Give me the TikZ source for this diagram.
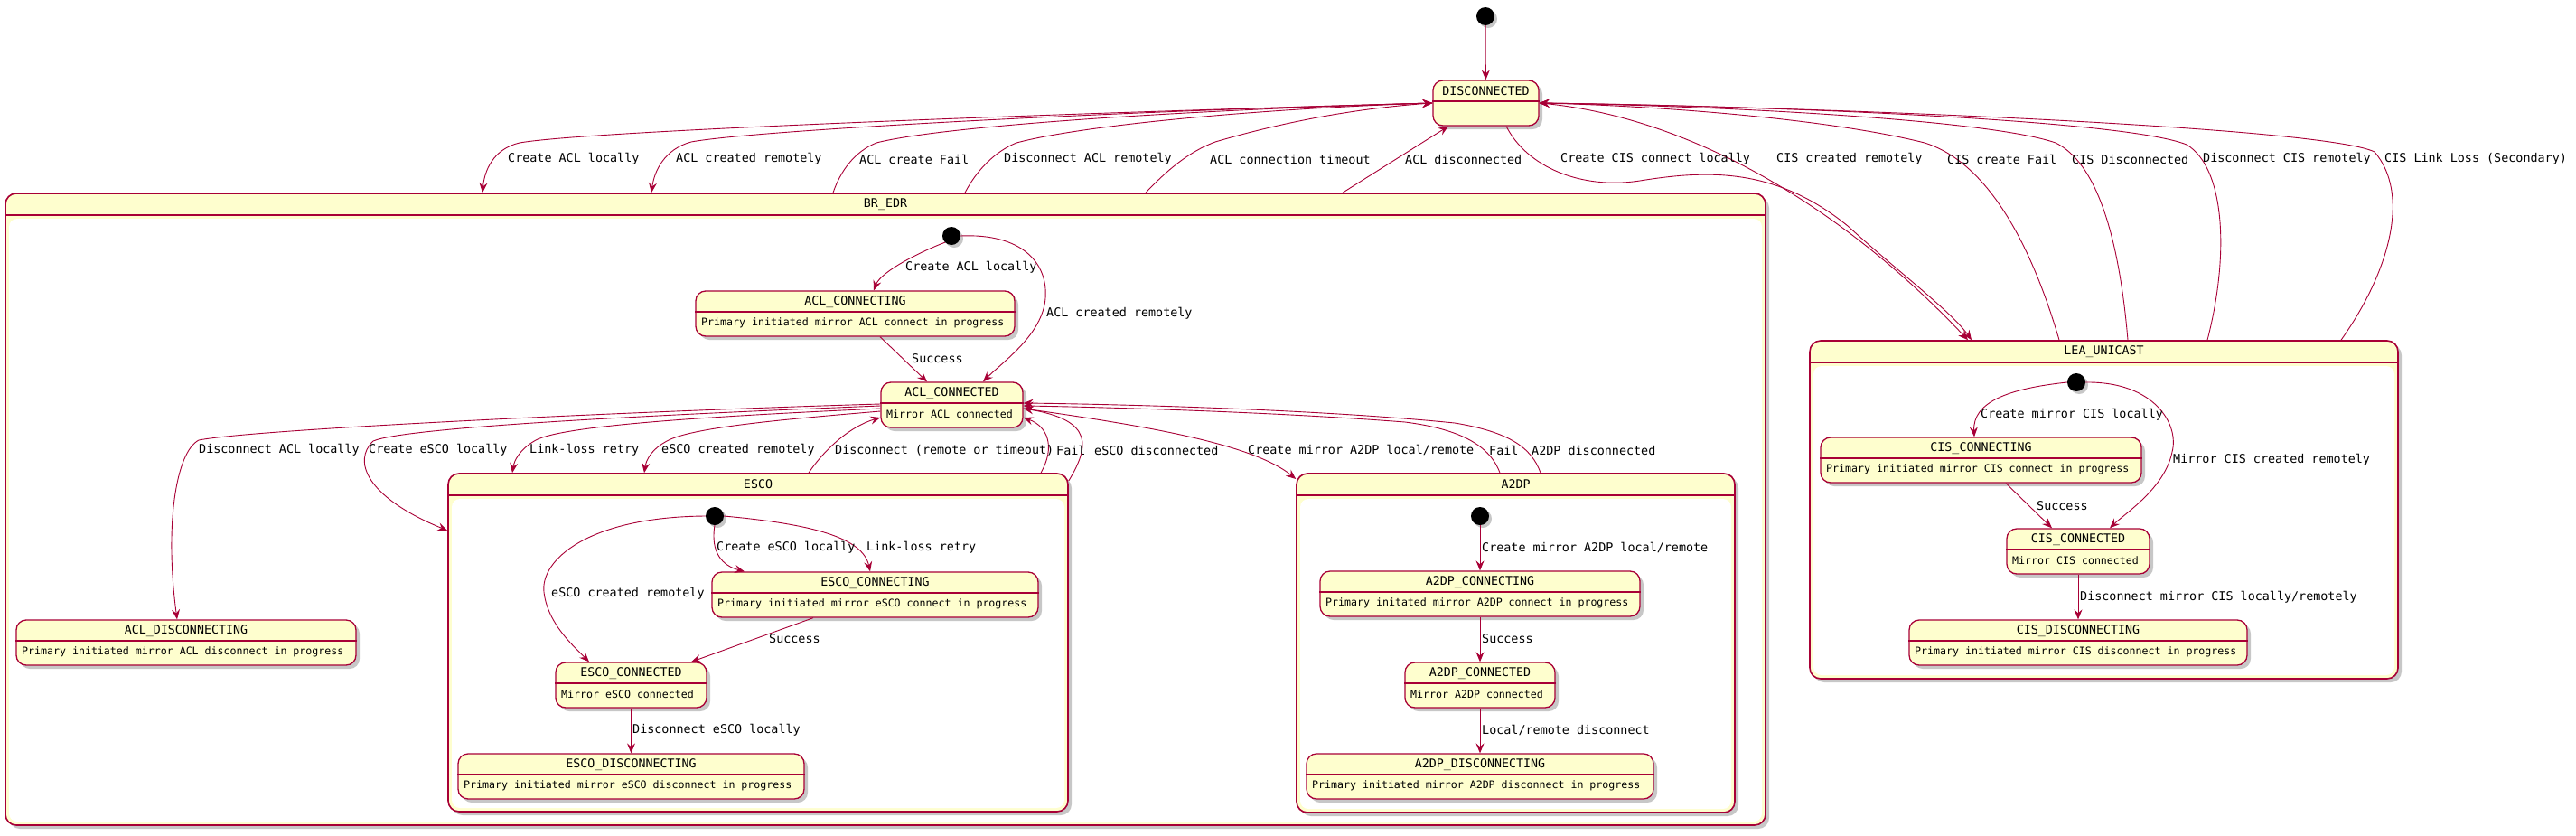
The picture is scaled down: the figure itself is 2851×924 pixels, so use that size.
\documentclass[tikz,border=0pt]{standalone}
\usepackage{fontspec}
\usetikzlibrary{arrows.meta,shadows}
\newfontfamily\umlmono{DejaVu Sans Mono}
\definecolor{umlred}{HTML}{A80036}
\definecolor{umlyellow}{HTML}{FEFECE}

\tikzset{
  stbox/.style={draw=umlred, fill=umlyellow, line width=1.3pt, rounded corners=11pt,
    minimum height=50pt, inner sep=0pt,
    drop shadow={shadow xshift=4pt, shadow yshift=-4pt, opacity=0.22, fill=black}},
  cbox/.style={draw=umlred, fill=umlyellow, line width=1.6pt, rounded corners=12pt, inner sep=0pt,
    drop shadow={shadow xshift=4pt, shadow yshift=-4pt, opacity=0.22, fill=black}},
  sepline/.style={draw=umlred, line width=1.3pt},
  initdot/.style={circle, fill=black, minimum size=20pt, inner sep=0pt,
    drop shadow={shadow xshift=3pt, shadow yshift=-3pt, opacity=0.22, fill=black}},
  ttl/.style={font=\umlmono\fontsize{13.3}{15}\selectfont, inner sep=0pt},
  dsc/.style={font=\umlmono\fontsize{11.6}{13}\selectfont, inner sep=0pt, anchor=west},
  lbl/.style={font=\umlmono\fontsize{13.4}{15}\selectfont, inner sep=0pt, anchor=west},
  tr/.style={draw=umlred, line width=0.9pt, -{Stealth[length=11pt, width=9pt, inset=4pt]}},
}

\begin{document}
\begin{tikzpicture}[x=1pt, y=-1pt]
  \useasboundingbox (0,0) rectangle (2851,924);

  % composite states
  \node[cbox, minimum width=1948pt, minimum height=699pt] (brEdr) at (980,563.5) {};
  \fill[white, rounded corners=9pt] (10,242) rectangle (1950,909);
  \draw[sepline] (brEdr.west |- 0,238) -- (brEdr.east |- 0,238);
  \node[ttl] (brEdrTitle) at (980,226) {BR\_EDR};

  \node[cbox, minimum width=686pt, minimum height=374pt] (esco) at (839,711) {};
  \fill[white, rounded corners=9pt] (500,552) rectangle (1178,894);
  \draw[sepline] (esco.west |- 0,548) -- (esco.east |- 0,548);
  \node[ttl] (escoTitle) at (839,536) {ESCO};

  \node[cbox, minimum width=485pt, minimum height=375pt] (a2dp) at (1677.5,711.5) {};
  \fill[white, rounded corners=9pt] (1439,552) rectangle (1916,895);
  \draw[sepline] (a2dp.west |- 0,548) -- (a2dp.east |- 0,548);
  \node[ttl] (a2dpTitle) at (1677.5,536) {A2DP};

  \node[cbox, minimum width=651pt, minimum height=374pt] (leaUnicast) at (2328.5,564) {};
  \fill[white, rounded corners=9pt] (2007,405) rectangle (2650,747);
  \draw[sepline] (leaUnicast.west |- 0,401) -- (leaUnicast.east |- 0,401);
  \node[ttl] (leaTitle) at (2328.5,389) {LEA\_UNICAST};

  % initial pseudo states
  \node[initdot] (init0) at (1644,18) {};
  \node[initdot] (initBr) at (1053,261) {};
  \node[initdot] (initEsco) at (791,571) {};
  \node[initdot] (initA2dp) at (1638,571) {};
  \node[initdot] (initLea) at (2298,423) {};

  % simple states
  \node[stbox, minimum width=117pt] (disc) at (1644.5,114) {};
  \draw[sepline] (disc.west |- 0,112) -- (disc.east |- 0,112);
  \node[ttl] (discTitle) at (1644.5,101) {DISCONNECTED};

  \foreach \nm/\cx/\cy/\w/\tt/\ds in {
    aclConnecting/946.5/347/353/ACL\_CONNECTING/Primary initiated mirror ACL connect in progress,
    aclConnected/1053.5/448/157/ACL\_CONNECTED/Mirror ACL connected,
    aclDisconnecting/206/711/376/ACL\_DISCONNECTING/Primary initiated mirror ACL disconnect in progress,
    escoConnecting/968.5/658/361/ESCO\_CONNECTING/Primary initiated mirror eSCO connect in progress,
    escoConnected/698.5/758/167/ESCO\_CONNECTED/Mirror eSCO connected,
    escoDisconnecting/698.5/859/383/ESCO\_DISCONNECTING/Primary initiated mirror eSCO disconnect in progress,
    a2dpConnecting/1638/657/354/A2DP\_CONNECTING/Primary initated mirror A2DP connect in progress,
    a2dpConnected/1638/758/166/A2DP\_CONNECTED/Mirror A2DP connected,
    a2dpDisconnecting/1638/859/384/A2DP\_DISCONNECTING/Primary initiated mirror A2DP disconnect in progress,
    cisConnecting/2192.5/509/355/CIS\_CONNECTING/Primary initiated mirror CIS connect in progress,
    cisConnected/2300/610/158/CIS\_CONNECTED/Mirror CIS connected,
    cisDisconnecting/2300/711/374/CIS\_DISCONNECTING/Primary initiated mirror CIS disconnect in progress} {
    \node[stbox, minimum width=\w pt] (\nm) at (\cx,\cy) {};
    \draw[sepline] (\nm.west |- 0,{\cy-2}) -- (\nm.east |- 0,{\cy-2});
    \node[ttl] (\nm Title) at (\cx,{\cy-13}) {\tt};
    \node[dsc] (\nm Text) at ({\cx-\w/2+6},{\cy+10}) {\ds};
  }

  % DISCONNECTED <-> BR_EDR
  \draw[tr] (init0) -- (disc);
  \draw[tr] (disc.west) .. controls (1150,126) and (650,145) .. (575,158)
    .. controls (545,165) and (536,190) .. (534,0 |- brEdr.north);
  \draw[tr] (disc.west) .. controls (1200,124) and (830,145) .. (765,157)
    .. controls (735,165) and (724,190) .. (721,0 |- brEdr.north);
  \draw[tr] (922,0 |- brEdr.north) .. controls (930,190) and (945,168) .. (970,158)
    .. controls (1040,140) and (1300,122) .. (disc.west);
  \draw[tr] (1068,0 |- brEdr.north) .. controls (1080,190) and (1100,168) .. (1125,158)
    .. controls (1200,138) and (1400,120) .. (disc.west);
  \draw[tr] (1268,0 |- brEdr.north) .. controls (1290,190) and (1315,168) .. (1345,157)
    .. controls (1420,135) and (1500,120) .. (disc.west);
  \draw[tr] (1486,0 |- brEdr.north) -- (1603,0 |- disc.south);

  % DISCONNECTED <-> LEA_UNICAST
  \draw[tr] (1667,0 |- disc.south) .. controls (1690,185) and (1750,210) .. (1815,200)
    .. controls (1890,188) and (1965,185) .. (2045,250)
    .. controls (2100,300) and (2160,345) .. (2182,0 |- leaUnicast.north);
  \draw[tr] (disc.east) .. controls (1870,128) and (2040,230) .. (2178,0 |- leaUnicast.north);
  \draw[tr] (2279,0 |- leaUnicast.north) .. controls (2245,260) and (2195,178) .. (2130,158)
    .. controls (2010,128) and (1800,116) .. (disc.east);
  \draw[tr] (2355,0 |- leaUnicast.north) .. controls (2345,260) and (2320,180) .. (2275,158)
    .. controls (2200,132) and (1900,117) .. (disc.east);
  \draw[tr] (2443,0 |- leaUnicast.north) .. controls (2468,280) and (2462,185) .. (2420,160)
    .. controls (2350,132) and (1950,117) .. (disc.east);
  \draw[tr] (2591,0 |- leaUnicast.north) .. controls (2645,300) and (2668,215) .. (2628,168)
    .. controls (2570,140) and (2000,118) .. (disc.east);

  \node[lbl] (l01) at (562,176) {Create ACL locally};
  \node[lbl] (l02) at (748,176) {ACL created remotely};
  \node[lbl] (l03) at (951,176) {ACL create Fail};
  \node[lbl] (l04) at (1111,176) {Disconnect ACL remotely};
  \node[lbl] (l05) at (1339,176) {ACL connection timeout};
  \node[lbl] (l06) at (1555,176) {ACL disconnected};
  \node[lbl] (l07) at (1727,176) {Create CIS connect locally};
  \node[lbl] (l08) at (1966,176) {CIS created remotely};
  \node[lbl] (l09) at (2155,176) {CIS create Fail};
  \node[lbl] (l10) at (2293,176) {CIS Disconnected};
  \node[lbl] (l11) at (2438,176) {Disconnect CIS remotely};
  \node[lbl] (l12) at (2639,176) {CIS Link Loss (Secondary)};

  % inside BR_EDR
  \draw[tr] (initBr.south west) .. controls (1020,278) and (975,300) .. (967,0 |- aclConnecting.north);
  \draw[tr] (initBr.east) .. controls (1130,258) and (1160,290) .. (1157,330)
    .. controls (1154,370) and (1110,400) .. (1088,0 |- aclConnected.north);
  \draw[tr] (974,0 |- aclConnecting.south) -- (1026,0 |- aclConnected.north);
  \draw[tr] (aclConnected.west |- 0,447) .. controls (700,455) and (280,475) .. (220,487)
    .. controls (195,500) and (182,580) .. (196,0 |- aclDisconnecting.north);
  \draw[tr] (aclConnected.west |- 0,449) .. controls (750,458) and (450,472) .. (413,488)
    .. controls (390,510) and (405,550) .. (esco.west |- 0,587);
  \draw[tr] (aclConnected.west |- 0,452) .. controls (800,460) and (625,470) .. (593,487)
    .. controls (575,497) and (569,510) .. (567,0 |- esco.north);
  \draw[tr] (aclConnected.west |- 0,455) .. controls (880,463) and (770,472) .. (740,487)
    .. controls (720,497) and (715,510) .. (713,0 |- esco.north);
  \draw[tr] (895,0 |- esco.north) .. controls (912,498) and (940,472) .. (aclConnected.west |- 0,462);
  \draw[tr] (1152,0 |- esco.north) .. controls (1168,495) and (1160,472) .. (aclConnected.east |- 0,462);
  \draw[tr] (esco.east |- 0,532) .. controls (1205,495) and (1212,465) .. (aclConnected.east |- 0,452);
  \draw[tr] (aclConnected.east |- 0,452) .. controls (1260,470) and (1385,490) .. (a2dp.west |- 0,530);
  \draw[tr] (1660,0 |- a2dp.north) .. controls (1648,490) and (1610,474) .. (1555,467)
    .. controls (1400,455) and (1200,450) .. (aclConnected.east |- 0,449);
  \draw[tr] (1705,0 |- a2dp.north) .. controls (1695,495) and (1670,478) .. (1610,468)
    .. controls (1450,452) and (1220,447) .. (aclConnected.east |- 0,446);

  \node[lbl] (l13) at (1002,296) {Create ACL locally};
  \node[lbl] (l14) at (1158,347) {ACL created remotely};
  \node[lbl] (l15) at (1009,397) {Success};
  \node[lbl] (l16) at (220,498) {Disconnect ACL locally};
  \node[lbl] (l17) at (408,498) {Create eSCO locally};
  \node[lbl] (l18) at (586,498) {Link-loss retry};
  \node[lbl] (l19) at (732,498) {eSCO created remotely};
  \node[lbl] (l20) at (924,498) {Disconnect (remote or timeout)};
  \node[lbl] (l21) at (1169,498) {Fail};
  \node[lbl] (l22) at (1211,498) {eSCO disconnected};
  \node[lbl] (l23) at (1381,498) {Create mirror A2DP local/remote};
  \node[lbl] (l24) at (1648,498) {Fail};
  \node[lbl] (l25) at (1695,498) {A2DP disconnected};

  % inside ESCO
  \draw[tr] (initEsco.south) .. controls (786,612) and (800,626) .. (824,0 |- escoConnecting.north);
  \draw[tr] (initEsco.east) .. controls (900,580) and (955,595) .. (963,0 |- escoConnecting.north);
  \draw[tr] (initEsco.west) .. controls (650,572) and (598,620) .. (602,655)
    .. controls (606,690) and (635,715) .. (652,0 |- escoConnected.north);
  \draw[tr] (900,0 |- escoConnecting.south) -- (765,0 |- escoConnected.north);
  \draw[tr] (escoConnected) -- (escoDisconnecting);

  \node[lbl] (l26) at (793,606) {Create eSCO locally};
  \node[lbl] (l27) at (959,606) {Link-loss retry};
  \node[lbl] (l28) at (610,657) {eSCO created remotely};
  \node[lbl] (l29) at (851,707) {Success};
  \node[lbl] (l30) at (700,808) {Disconnect eSCO locally};

  % inside A2DP
  \draw[tr] (initA2dp) -- (a2dpConnecting);
  \draw[tr] (a2dpConnecting) -- (a2dpConnected);
  \draw[tr] (a2dpConnected) -- (a2dpDisconnecting);

  \node[lbl] (l31) at (1640,606) {Create mirror A2DP local/remote};
  \node[lbl] (l32) at (1640,707) {Success};
  \node[lbl] (l33) at (1640,808) {Local/remote disconnect};

  % inside LEA_UNICAST
  \draw[tr] (initLea.west) .. controls (2222,430) and (2183,445) .. (2185,0 |- cisConnecting.north);
  \draw[tr] (initLea.east) .. controls (2385,422) and (2412,470) .. (2404,500)
    .. controls (2396,540) and (2352,568) .. (2335,0 |- cisConnected.north);
  \draw[tr] (2220,0 |- cisConnecting.south) -- (2271,0 |- cisConnected.north);
  \draw[tr] (cisConnected) -- (cisDisconnecting);

  \node[lbl] (l34) at (2192,459) {Create mirror CIS locally};
  \node[lbl] (l35) at (2405,509) {Mirror CIS created remotely};
  \node[lbl] (l36) at (2254,560) {Success};
  \node[lbl] (l37) at (2302,661) {Disconnect mirror CIS locally/remotely};
\end{tikzpicture}
\end{document}
